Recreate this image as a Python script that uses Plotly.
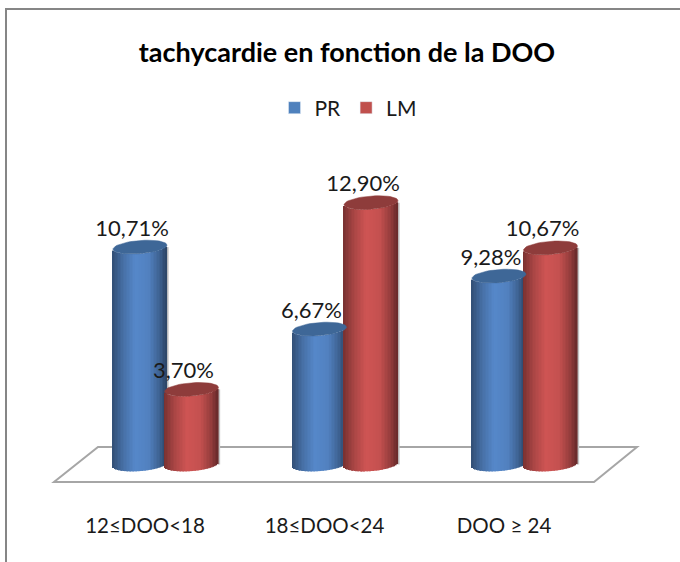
import numpy as np
import plotly.graph_objects as go

categories = ["12≤DOO<18", "18≤DOO<24", "DOO ≥ 24"]
pr_values = [10.71, 6.67, 9.28]
lm_values = [3.70, 12.90, 10.67]
pr_labels = ["10,71%", "6,67%", "9,28%"]
lm_labels = ["3,70%", "12,90%", "10,67%"]

# pixel scale of the picture, the cylinders are faked with thin bars
W, H = 680, 562
PLOT_BOTTOM = 500
BASE_Y = 464.5
PX_PER_CAT = 179.5
PX_PER_PCT = 20.3
FIRST_TICK = 145
RADIUS = 27 / PX_PER_CAT
ELL_B = 6.6 / PX_PER_PCT
TILT = 2 / PX_PER_PCT
N_STRIPS = 36

SHADE_T = [-1, -0.6, -0.15, 0.35, 0.75, 1]
SHADE_V = [0.58, 0.82, 1.0, 0.95, 0.72, 0.5]


def shade(rgb, t):
    k = np.interp(t, SHADE_T, SHADE_V)
    return "rgb(%d,%d,%d)" % tuple(int(c * k) for c in rgb)


def cylinder_traces(values, offset, rgb, top_color, name):
    xs, bases, heights, colors = [], [], [], []
    ex, ey = [], []
    ang = np.linspace(0, 2 * np.pi, 50)
    step = 2 / N_STRIPS
    for i, v in enumerate(values):
        cx = i + offset
        # faint grey shadow on the right side
        xs.append(cx + RADIUS + 0.8 / PX_PER_CAT)
        bases.append(0)
        heights.append(v)
        colors.append("#C4C4C4")
        for t in np.arange(-1 + step / 2, 1, step):
            xs.append(cx + t * RADIUS)
            bases.append(-ELL_B * np.sqrt(1 - t * t) + TILT * t)
            heights.append(v)
            colors.append(shade(rgb, t))
        ex += list(cx + RADIUS * np.cos(ang)) + [None]
        ey += list(v + ELL_B * np.sin(ang) + TILT * np.cos(ang)) + [None]
    body = go.Bar(x=xs, y=heights, base=bases, width=step * RADIUS * 1.15,
                  marker=dict(color=colors, line=dict(width=0)),
                  showlegend=False, hoverinfo="skip", name=name)
    top = go.Scatter(x=ex, y=ey, mode="lines", fill="toself", fillcolor=top_color,
                     line=dict(color=top_color, width=0.5),
                     showlegend=False, hoverinfo="skip")
    return [body, top]


fig = go.Figure()
for tr in cylinder_traces(pr_values, -0.028, (86, 136, 202), "#3E6797", "PR"):
    fig.add_trace(tr)
for tr in cylinder_traces(lm_values, 0.259, (207, 85, 84), "#8E3C3B", "LM"):
    fig.add_trace(tr)

# legend only entries
fig.add_trace(go.Bar(x=[None], y=[None], name="PR", marker_color="#4F81BD"))
fig.add_trace(go.Bar(x=[None], y=[None], name="LM", marker_color="#C0504D"))

# data labels
label_dy = 17 / PX_PER_PCT
for values, offset, labels in [(pr_values, -0.028, pr_labels), (lm_values, 0.259, lm_labels)]:
    fig.add_trace(go.Scatter(
        x=[i + offset - 8 / PX_PER_CAT for i in range(3)],
        y=[v + label_dy for v in values],
        text=labels, mode="text", textposition="middle center",
        textfont=dict(family="Lato", size=22, color="#1A1A1A"),
        showlegend=False, hoverinfo="skip",
    ))


def px(x):
    return x / W


def py(y):
    return (PLOT_BOTTOM - y) / PLOT_BOTTOM


floor = "M%f,%f L%f,%f L%f,%f L%f,%f Z" % (px(98), py(447), px(637), py(447), px(594), py(482), px(54), py(482))
frame = "M%f,%f L%f,%f L%f,%f" % (px(6), py(562), px(6), py(9), px(680), py(9))

fig.update_layout(
    width=W, height=H, barmode="overlay",
    paper_bgcolor="white", plot_bgcolor="white",
    margin=dict(l=0, r=0, t=0, b=H - PLOT_BOTTOM, autoexpand=False),
    title=dict(text="<b>tachycardie en fonction de la DOO</b>", x=347 / W, xanchor="center",
               y=1 - 53 / H, yanchor="middle",
               font=dict(family="Lato", size=27, color="#000000")),
    legend=dict(orientation="h", x=348 / W, xanchor="center", y=1 - 108 / PLOT_BOTTOM, yanchor="middle",
                font=dict(family="Lato", size=21, color="#1A1A1A"), bgcolor="rgba(0,0,0,0)"),
    shapes=[
        dict(type="path", path=floor, xref="paper", yref="paper", layer="below",
             line=dict(color="#A6A6A6", width=2)),
        dict(type="path", path=frame, xref="paper", yref="paper", layer="below",
             line=dict(color="#868686", width=2)),
    ],
)
fig.update_xaxes(range=[-FIRST_TICK / PX_PER_CAT, (W - FIRST_TICK) / PX_PER_CAT],
                 tickmode="array", tickvals=[0, 1, 2], ticktext=categories,
                 ticks="outside", ticklen=7, tickcolor="rgba(0,0,0,0)",
                 tickfont=dict(family="Lato", size=20.5, color="#1A1A1A"),
                 showgrid=False, zeroline=False, showline=False, automargin=False)
fig.update_yaxes(range=[(BASE_Y - PLOT_BOTTOM) / PX_PER_PCT, BASE_Y / PX_PER_PCT],
                 visible=False, showgrid=False, zeroline=False, automargin=False)

# page has a default body margin, drop it so the figure sits at 0,0
fig.write_html("out.html", config=dict(displayModeBar=False),
               post_script="document.body.style.margin='0';document.body.style.overflow='hidden';")
